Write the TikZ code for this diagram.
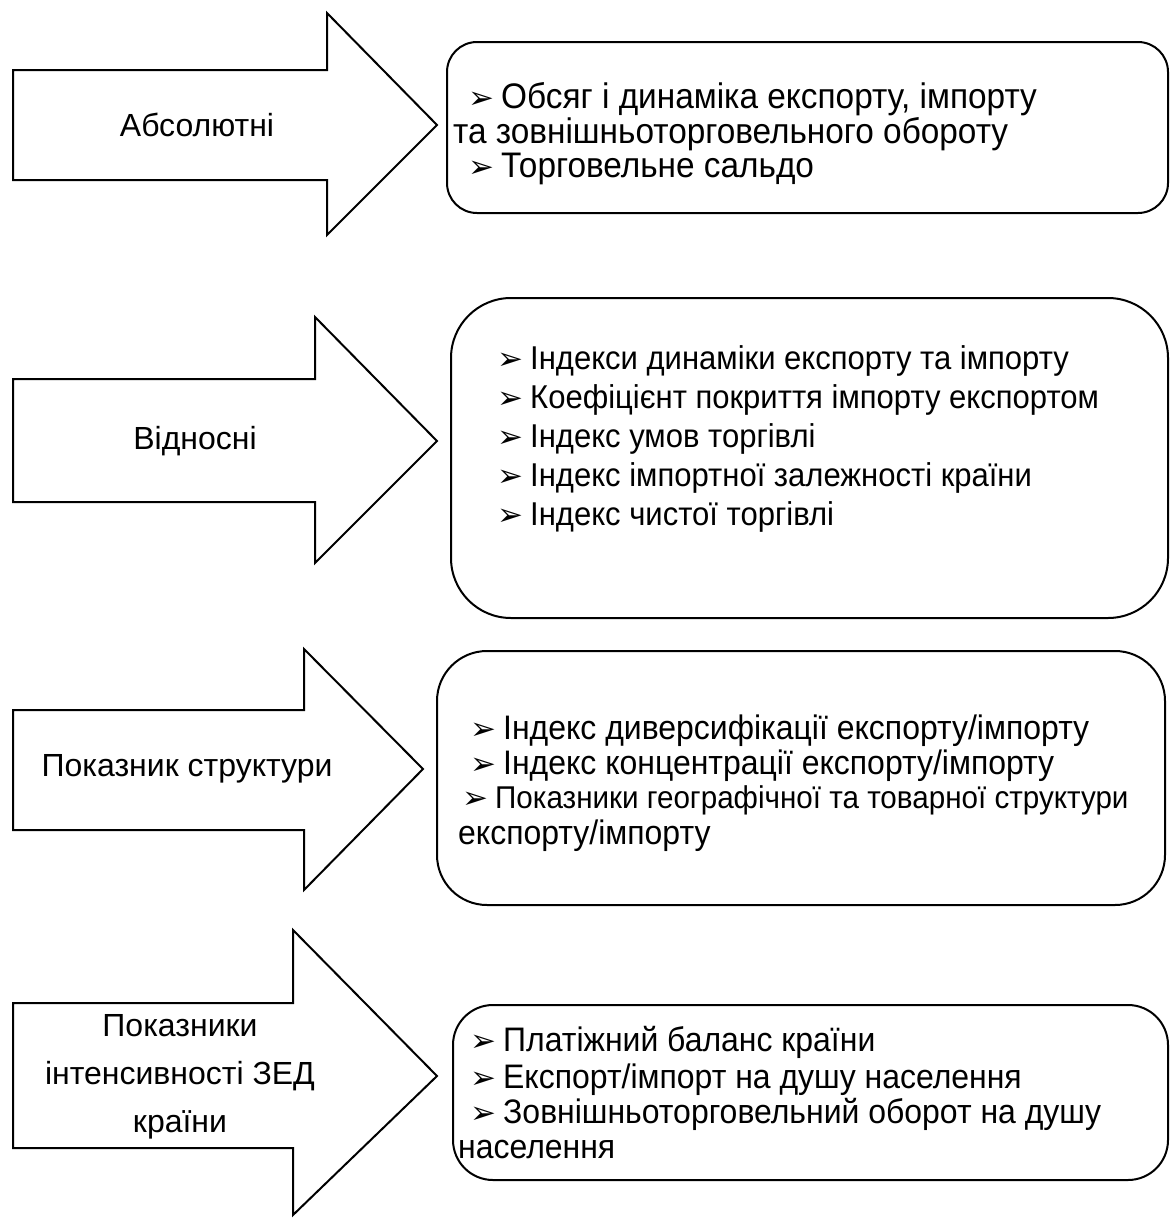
\documentclass[tikz,border=0pt]{standalone}
\usepackage{fontspec}
\setmainfont{Liberation Sans}
\newfontfamily\boxfont[FakeStretch=0.94]{Liberation Sans}
\newfontfamily\bulletfont{DejaVu Sans}
\newcommand{\bul}{{\bulletfont\fontsize{31}{31}\selectfont ➢}\hspace{7pt}}
\begin{document}
\begin{tikzpicture}[x=1pt,y=-1pt,
  shapeline/.style={draw=black, line width=2pt, fill=white, line join=miter},
  boxline/.style={draw=black, line width=2pt, fill=white},
  lbl/.style={font=\fontsize{32}{48}\selectfont, align=center, inner sep=0pt},
  ln/.style={font=\boxfont\fontsize{34}{35}\selectfont, anchor=base west, inner sep=0pt},
  lnbig/.style={ln, font=\boxfont\fontsize{35.5}{35}\selectfont},
  lnsmall/.style={ln, font=\boxfont\fontsize{33}{35}\selectfont}]
\useasboundingbox (0,0) rectangle (1170,1218);
\fill[white] (0,0) rectangle (1170,1218);
% arrows
\draw[shapeline] (13,70) -- (327,70) -- (327,13) -- (437,125) -- (327,235) -- (327,180) -- (13,180) -- cycle;
\draw[shapeline] (13,379) -- (315,379) -- (315,317) -- (437,441) -- (315,563) -- (315,502) -- (13,502) -- cycle;
\draw[shapeline] (13,710) -- (304,710) -- (304,649) -- (423,769) -- (304,890) -- (304,830) -- (13,830) -- cycle;
\draw[shapeline] (13,1003) -- (293,1003) -- (293,930) -- (437,1076) -- (293,1215) -- (293,1148) -- (13,1148) -- cycle;
% labels
\node[lbl] (a1) at (197,125) {Абсолютні};
\node[lbl] (a2) at (195,441) {Відносні};
\node[lbl] (a3) at (187,769) {Показник структури};
\node[lbl] (a4) at (180,1077) {Показники\\інтенсивності ЗЕД\\країни};
% boxes
\draw[boxline, rounded corners=30pt] (447,42) rectangle (1168,213);
\draw[boxline, rounded corners=60pt] (451,298) rectangle (1168,618);
\draw[boxline, rounded corners=50pt] (437,651) rectangle (1165,905);
\draw[boxline, rounded corners=40pt] (453,1005) rectangle (1168,1180);
% box 1 text
\node[lnbig] (t11) at (468,108) {\bul Обсяг і динаміка експорту, імпорту};
\node[lnbig] (t12) at (453,143) {та зовнішньоторговельного обороту};
\node[lnbig] (t13) at (468,177) {\bul Торговельне сальдо};
% box 2 text
\node[lnsmall] (t21) at (497,369) {\bul Індекси динаміки експорту та імпорту};
\node[lnsmall] (t22) at (497,408) {\bul Коефіцієнт покриття імпорту експортом};
\node[lnsmall] (t23) at (497,447) {\bul Індекс умов торгівлі};
\node[lnsmall] (t24) at (497,486) {\bul Індекс імпортної залежності країни};
\node[lnsmall] (t25) at (497,525) {\bul Індекс чистої торгівлі};
% box 3 text
\node[ln] (t31) at (470,739) {\bul Індекс диверсифікації експорту/імпорту};
\node[ln] (t32) at (470,774) {\bul Індекс концентрації експорту/імпорту};
\node[ln, font=\boxfont\fontsize{31.5}{35}\selectfont] (t33) at (462,808) {\bul Показники географічної та товарної структури};
\node[ln] (t34) at (458,844) {експорту/імпорту};
% box 4 text
\node[ln] (t41) at (470,1051) {\bul Платіжний баланс країни};
\node[ln] (t42) at (470,1088) {\bul Експорт/імпорт на душу населення};
\node[ln] (t43) at (470,1123) {\bul Зовнішньоторговельний оборот на душу};
\node[ln] (t44) at (458,1158) {населення};
\end{tikzpicture}
\end{document}
